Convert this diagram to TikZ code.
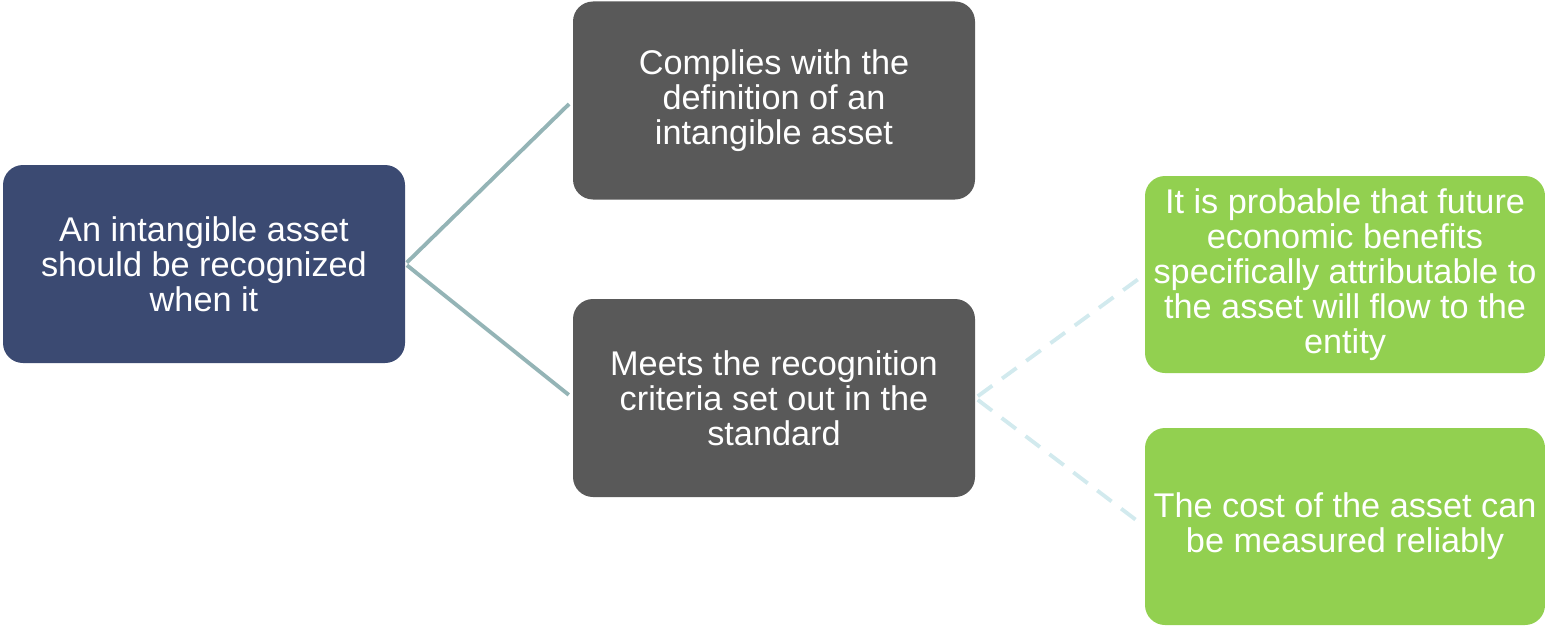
\documentclass[tikz,border=0pt]{standalone}
\usepackage{fontspec}
\setmainfont{Liberation Sans}
\definecolor{rootblue}{RGB}{59,74,114}
\definecolor{darkgray}{RGB}{89,89,89}
\definecolor{leafgreen}{RGB}{146,208,80}
\definecolor{linkgray}{RGB}{148,180,182}
\definecolor{linklight}{RGB}{210,234,238}
\begin{document}
\begin{tikzpicture}[
        box/.style={rounded corners=0.4cm, minimum width=8.04cm, minimum height=3.96cm,
            text=white, align=center, inner sep=0pt,
            font=\fontsize{19.5}{20}\selectfont},
        leafbox/.style={box, fill=leafgreen, minimum width=8cm, minimum height=3.94cm},
        link/.style={draw=linkgray, line width=2.2pt, shorten <=0.04cm, shorten >=0.1cm},
        sublink/.style={draw=linklight, line width=2.2pt, dash pattern=on 0.36cm off 0.24cm,
            shorten <=0.06cm, shorten >=0.1cm}
    ]
    \useasboundingbox (0,0) rectangle (30.9,-12.5);
    \node[box, fill=rootblue] (root) at (4.08,-5.28) {An intangible asset\\should be recognized\\when it};
    \node[box, fill=darkgray] (defn) at (15.48,-2.01) {Complies with the\\definition of an\\intangible asset};
    \node[box, fill=darkgray] (crit) at (15.48,-7.96) {Meets the recognition\\criteria set out in the\\standard};
    \node[leafbox] (flow) at (26.9,-5.49) {It is probable that future\\economic benefits\\specifically attributable to\\the asset will flow to the\\entity};
    \node[leafbox] (cost) at (26.9,-10.53) {The cost of the asset can\\be measured reliably};
    \draw[link] (root.east) -- (defn.west);
    \draw[link] (root.east) -- (crit.west);
    \draw[sublink] (crit.east) -- (flow.west);
    \draw[sublink] (crit.east) -- (cost.west);
\end{tikzpicture}
\end{document}
